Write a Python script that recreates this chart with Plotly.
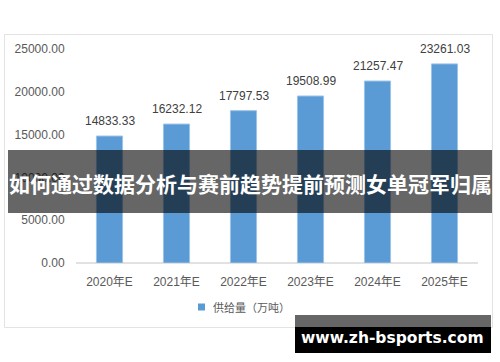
import plotly.graph_objects as go

categories = ["2020年E", "2021年E", "2022年E", "2023年E", "2024年E", "2025年E"]
supply = [14833.33, 16232.12, 17797.53, 19508.99, 21257.47, 23261.03]
y_ticks = [0, 5000, 10000, 15000, 20000, 25000]
series_name = "供给量（万吨）"
title_text = "如何通过数据分析与赛前趋势提前预测女单冠军归属"
watermark = "www.zh-bsports.com"

W, H = 500, 362
L, R, T, B = 76, 478, 49, 263


def px(x):
    return (x - L) / (R - L)


def py(y):
    return (B - y) / (B - T)


fig = go.Figure()
fig.add_trace(go.Bar(
    x=categories, y=supply, name=series_name,
    marker=dict(color="#5b9bd5", line=dict(color="#9dc3e6", width=1)),
    width=0.39, showlegend=False,
))

annotations = []
for c, v in zip(categories, supply):
    annotations.append(dict(x=c, y=v, xref="x", yref="y", text=f"{v:.2f}",
                            showarrow=False, yanchor="bottom", yshift=6,
                            font=dict(size=12, color="#404040",
                                      family="Liberation Sans, Arial, sans-serif")))

# legend (manual)
annotations.append(dict(x=px(211), y=py(307), xref="paper", yref="paper",
                        text=series_name, showarrow=False, xanchor="left", yanchor="middle",
                        font=dict(size=11, color="#595959",
                                  family="Noto Sans CJK SC, Liberation Sans, sans-serif")))
# overlay title
annotations.append(dict(x=px(250), y=py(183), xref="paper", yref="paper",
                        text="<b>" + title_text + "</b>", showarrow=False,
                        xanchor="center", yanchor="middle",
                        font=dict(size=21, color="white",
                                  family="Noto Sans CJK SC, sans-serif")))
# watermark
annotations.append(dict(x=px(392), y=py(338), xref="paper", yref="paper",
                        text="<b>" + watermark + "</b>", showarrow=False,
                        xanchor="center", yanchor="middle",
                        font=dict(size=15.5, color="white",
                                  family="DejaVu Sans, Verdana, sans-serif")))

shapes = [
    # chart border
    dict(type="rect", xref="paper", yref="paper", x0=px(4.5), x1=px(492.5), y0=py(327.5), y1=py(34.5),
         line=dict(color="#e3e3e3", width=1), fillcolor="rgba(0,0,0,0)", layer="below"),
    # x axis line
    dict(type="line", xref="paper", yref="paper", x0=0, x1=1, y0=0, y1=0,
         line=dict(color="#d9d9d9", width=1.5), layer="below"),
    # legend square
    dict(type="rect", xref="paper", yref="paper", x0=px(198), x1=px(205), y0=py(310.5), y1=py(303.5),
         line=dict(width=0), fillcolor="#5b9bd5"),
    # title band
    dict(type="rect", xref="paper", yref="paper", x0=px(8), x1=px(492), y0=py(213), y1=py(150),
         line=dict(width=0), fillcolor="rgba(0,0,0,0.6)", layer="above"),
    # watermark boxes
    dict(type="rect", xref="paper", yref="paper", x0=px(295), x1=px(491), y0=py(327), y1=py(315),
         line=dict(width=0), fillcolor="#666666", layer="above"),
    dict(type="rect", xref="paper", yref="paper", x0=px(295), x1=px(491), y0=py(353), y1=py(327),
         line=dict(width=0), fillcolor="#000000", layer="above"),
]

fig.update_layout(
    width=W, height=H,
    margin=dict(l=L, r=W - R, t=T, b=H - B, pad=0),
    paper_bgcolor="white", plot_bgcolor="white",
    bargap=0.61,
    annotations=annotations, shapes=shapes,
    font=dict(family="Liberation Sans, Noto Sans CJK SC, sans-serif", size=12, color="#595959"),
)
fig.update_xaxes(showgrid=False, showline=False, zeroline=False,
                 ticks="outside", ticklen=8, tickcolor="rgba(0,0,0,0)",
                 tickfont=dict(size=12, color="#595959",
                               family="Liberation Sans, Noto Sans CJK SC, sans-serif"))
fig.update_yaxes(range=[0, 25000], tickvals=y_ticks, tickformat=".2f",
                 showgrid=False, showline=False, zeroline=False,
                 ticks="outside", ticklen=8, tickcolor="rgba(0,0,0,0)",
                 tickfont=dict(size=12, color="#595959",
                               family="Liberation Sans, Arial, sans-serif"))

fig.write_html("out.html")
